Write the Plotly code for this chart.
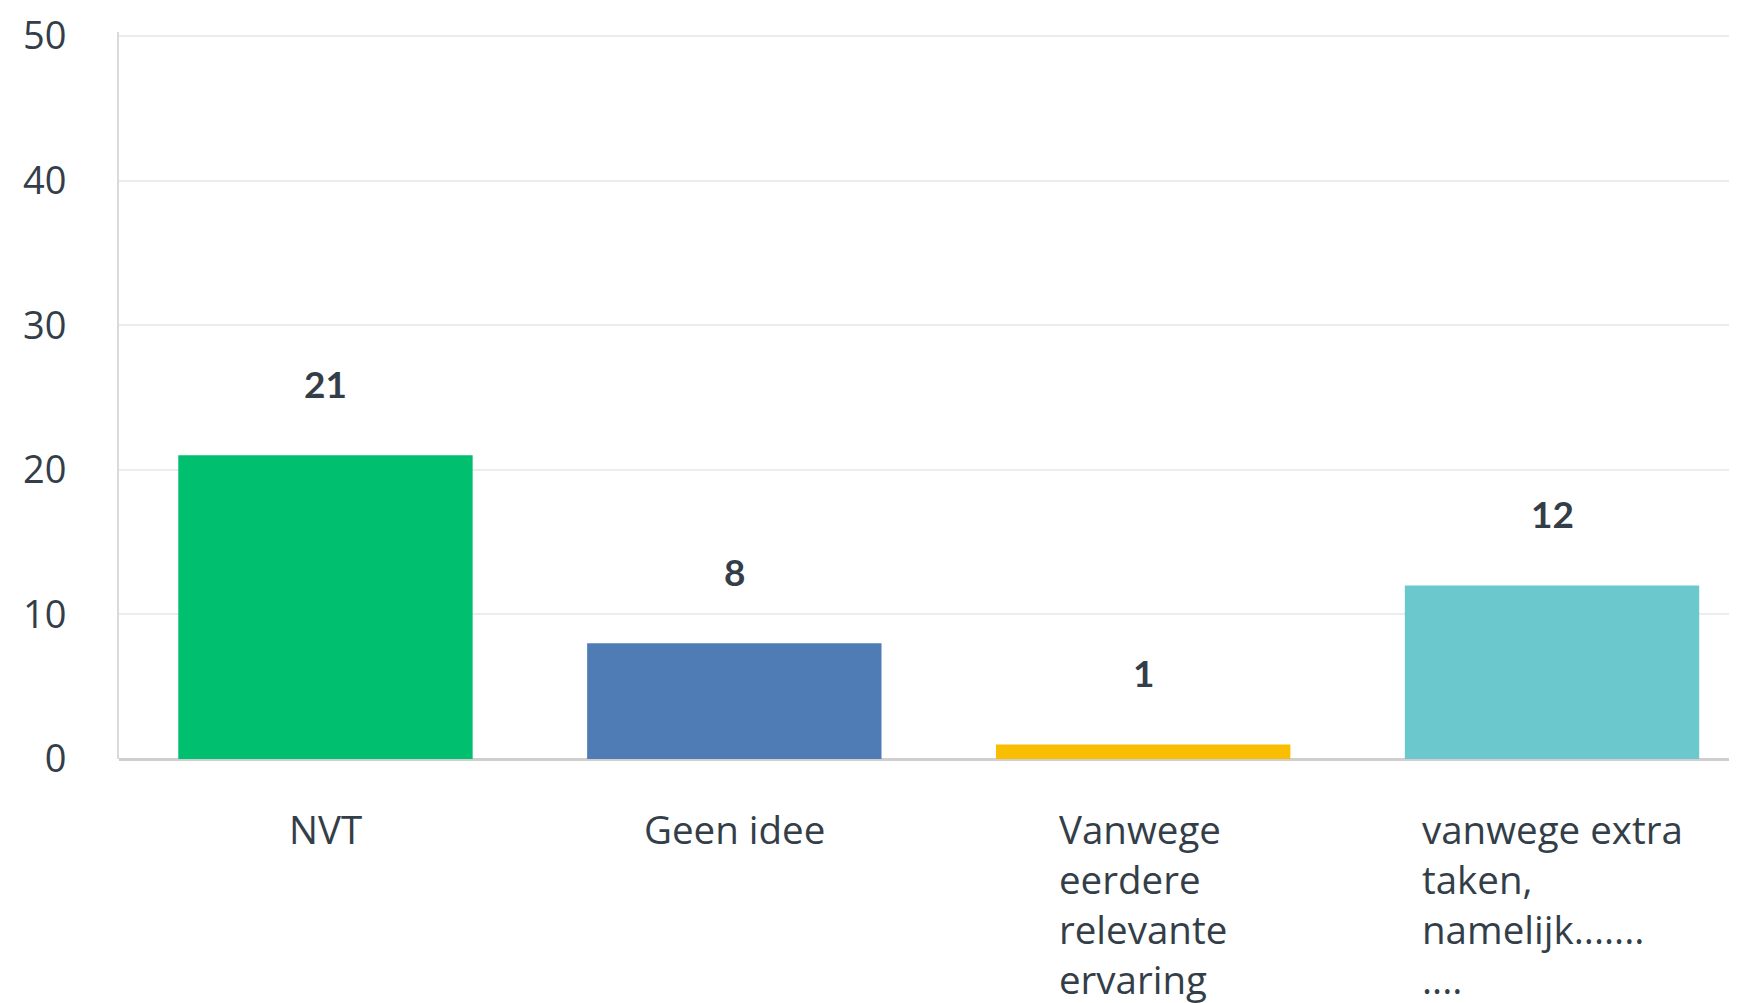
import plotly.graph_objects as go

categories = ["NVT", "Geen idee", "Vanwege eerdere relevante ervaring", "vanwege extra taken, namelijk......."]
category_lines = [
    ["NVT"],
    ["Geen idee"],
    ["Vanwege", "eerdere", "relevante", "ervaring"],
    ["vanwege extra", "taken,", "namelijk.......", "...."],
]
values = [21, 8, 1, 12]
colors = ["#00bf6f", "#507cb6", "#f9be00", "#6bc8cd"]
y_ticks = [0, 10, 20, 30, 40, 50]

FONT = "Open Sans"
TXT = "#333e48"

fig = go.Figure()
fig.add_trace(go.Bar(
    x=categories, y=values, marker=dict(color=colors, line=dict(width=0)),
    width=0.72, hoverinfo="skip",
))

for c, v in zip(categories, values):
    fig.add_annotation(x=c, y=v, text=f"<b>{v}</b>", showarrow=False,
                       yanchor="middle", yshift=72,
                       font=dict(family="Lato", size=37, color=TXT))

for c, lines in zip(categories, category_lines):
    fig.add_annotation(x=c, y=0, text="<br>".join(lines), showarrow=False,
                       xanchor="center", yanchor="top", yshift=-42, align="left",
                       font=dict(family=FONT, size=38.5, color=TXT))

fig.update_layout(
    width=1737, height=1003,
    margin=dict(l=111, r=0, t=21, b=252),
    plot_bgcolor="white", paper_bgcolor="white",
    showlegend=False,
    bargap=0.28,
)
fig.update_xaxes(range=[-0.505, 3.472], showticklabels=False, showgrid=False,
                 showline=False, zeroline=False, ticks="")
fig.update_yaxes(range=[0, 50.28], tickvals=y_ticks, showgrid=True, gridcolor="#ececec",
                 gridwidth=2, zeroline=True, zerolinecolor="#cfcfcf", zerolinewidth=3,
                 showline=True, linecolor="#dadada", linewidth=2,
                 ticklabelstandoff=43, ticklabeloverflow="allow",
                 tickfont=dict(family=FONT, size=38, color=TXT))

fig.write_html("out.html")
